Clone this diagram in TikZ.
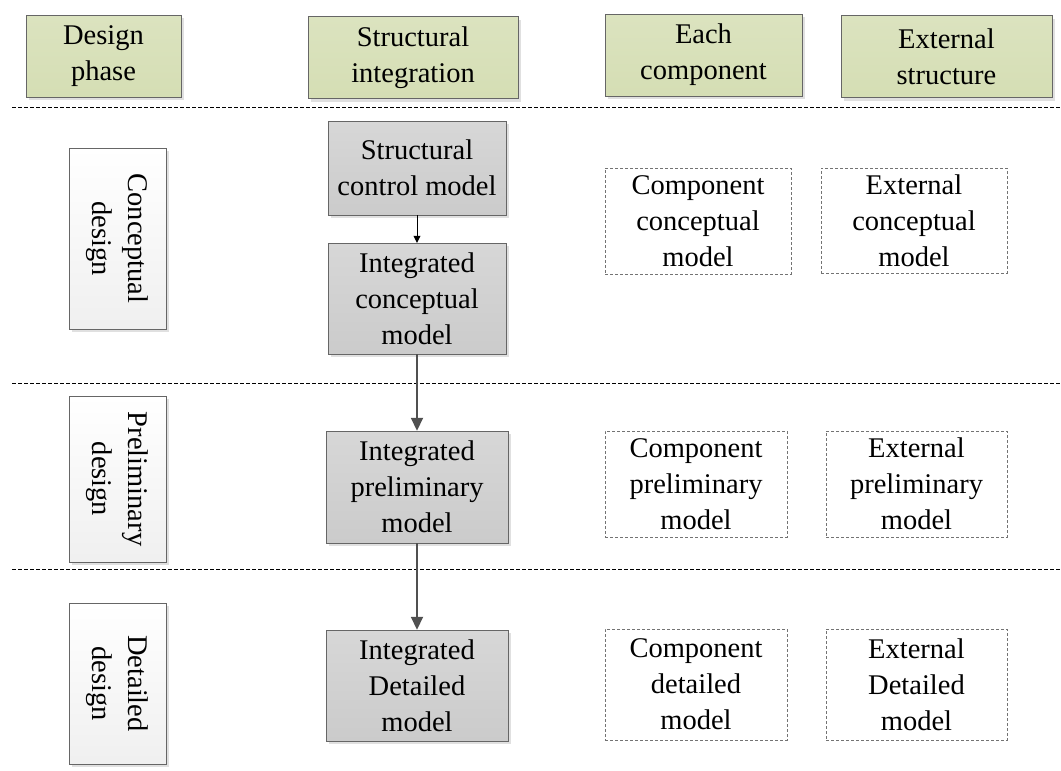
\documentclass[tikz,border=0pt]{standalone}
\usepackage{fontspec}
\setmainfont{Liberation Serif}
\usepackage{xcolor}
\usetikzlibrary{positioning,shadows,arrows.meta}

\definecolor{headgreen}{RGB}{213,222,180}
\definecolor{grayup}{RGB}{215,215,215}
\definecolor{graydown}{RGB}{203,203,203}
\definecolor{linegray}{RGB}{80,80,80}

% vertical two-line text for the phase boxes
\newcommand{\vertlabel}[1]{\rotatebox{-90}{\begin{tabular}{@{}c@{}}#1\end{tabular}}}

\begin{document}
\begin{tikzpicture}[x=1pt,y=-1pt,
    txt/.style={font=\fontsize{28.5}{36}\selectfont,align=center,inner sep=0pt},
    header/.style={txt,draw=black!60,top color=headgreen!85!white,bottom color=headgreen,
        minimum height=82pt,
        drop shadow={shadow xshift=3pt,shadow yshift=-3pt,fill=black!12,opacity=1}},
    phasebox/.style={txt,draw=black!60,top color=white,bottom color=black!6,
        minimum width=97pt,
        drop shadow={shadow xshift=3pt,shadow yshift=-3pt,fill=black!12,opacity=1}},
    intbox/.style={txt,draw=black!60,top color=grayup,bottom color=graydown,
        drop shadow={shadow xshift=3pt,shadow yshift=-3pt,fill=black!12,opacity=1}},
    sidebox/.style={txt,draw=black!55,densely dashed,thin},
    sepline/.style={thick,dash pattern=on 4pt off 2pt},
    smallarrow/.style={-{Triangle[length=7pt,width=7pt]},black},
    bigarrow/.style={-{Triangle[length=13pt,width=12pt]},line width=1.8pt,linegray}
  ]
    % Bounding box of the page
    \useasboundingbox (0,0) rectangle (1061,771);

    % Header row
    \node[header,minimum width=155pt] (hdDesign) at (103.5,56) {Design\\phase};
    \node[header,minimum width=210pt] (hdStruct) at (413,57.5) {Structural\\integration};
    \node[header,minimum width=197pt] (hdComp) at (703.5,55) {Each\\component};
    \node[header,minimum width=211pt] (hdExt) at (946.5,56.5) {External\\structure};

    % Phase separators
    \draw[sepline] (12,107) -- (1061,107);
    \draw[sepline] (12,383) -- (1061,383);
    \draw[sepline] (12,569) -- (1061,569);

    % Design phases
    \node[phasebox,minimum height=181pt] (phConcept) at (117.5,238.5) {\vertlabel{Conceptual\\design}};
    \node[phasebox,minimum height=166pt] (phPrelim) at (117.5,479) {\vertlabel{Preliminary\\design}};
    \node[phasebox,minimum height=161pt] (phDetail) at (117.5,683.5) {\vertlabel{Detailed\\design}};

    % Structural integration models
    \node[intbox,minimum width=178pt,minimum height=94pt] (mdControl) at (417,168) {Structural\\control model};
    \node[intbox,minimum width=178pt,minimum height=111pt] (mdIntConcept) at (417,298.5) {Integrated\\conceptual\\model};
    \node[intbox,minimum width=182pt,minimum height=112pt] (mdIntPrelim) at (417,487) {Integrated\\preliminary\\model};
    \node[intbox,minimum width=182pt,minimum height=111pt] (mdIntDetail) at (417,685.5) {Integrated\\Detailed\\model};

    % Flow between models
    \draw[smallarrow] (mdControl) -- (mdIntConcept);
    \draw[bigarrow] (mdIntConcept) -- (mdIntPrelim);
    \draw[bigarrow] (mdIntPrelim) -- (mdIntDetail);

    % Component models
    \node[sidebox,minimum width=186pt,minimum height=106pt] (cpConcept) at (698,221) {Component\\conceptual\\model};
    \node[sidebox,minimum width=182pt,minimum height=106pt] (cpPrelim) at (696,484) {Component\\preliminary\\model};
    \node[sidebox,minimum width=182pt,minimum height=111pt] (cpDetail) at (696,684.5) {Component\\detailed\\model};

    % External models
    \node[sidebox,minimum width=186pt,minimum height=105pt] (exConcept) at (914,220.5) {External\\conceptual\\model};
    \node[sidebox,minimum width=181pt,minimum height=106pt] (exPrelim) at (916.5,484) {External\\preliminary\\model};
    \node[sidebox,minimum width=181pt,minimum height=111pt] (exDetail) at (916.5,684.5) {External\\Detailed\\model};

\end{tikzpicture}
\end{document}
